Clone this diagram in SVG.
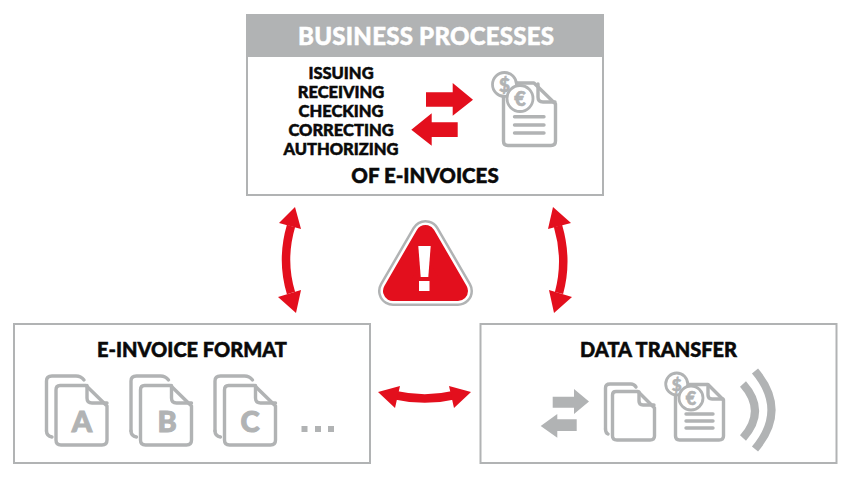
<svg xmlns="http://www.w3.org/2000/svg" width="850" height="478" viewBox="0 0 850 478">
<style>
text{font-family:Lato,"Liberation Sans",sans-serif;font-weight:900;fill:#0a0a0a;stroke:#0a0a0a;stroke-width:.5;text-anchor:middle}
.box{fill:#fff;stroke:#b1b3b4;stroke-width:2}
.ln{fill:none;stroke:#b1b3b4;stroke-width:3.400;stroke-linejoin:round;stroke-linecap:round}
.coin{fill:#fff;stroke:#b1b3b4;stroke-width:2.800}
.g{fill:#b1b3b4}
.r{fill:#e30f1d}
.sh{fill:none;stroke:#e30f1d;stroke-width:8.500}
.wave{fill:none;stroke:#b1b3b4;stroke-width:8}
.sym{fill:#b1b3b4;stroke:#b1b3b4;stroke-width:.6}
.list{font-size:16.500px}
.head{font-size:20px}
.let{fill:#b1b3b4;stroke:#b1b3b4;stroke-width:1;font-size:29px}
</style>
<defs>
<g id="doc"><path class="ln" d="M46.500 431V381Q46.500 376 52 376H76Q81 376 84 380"/><path class="ln" d="M46.500 431Q46.500 436 52 437"/><path d="M60 385.500H86L107 406V440Q107 445 102 445H61Q56 445 56 440V390Q56 385.500 60 385.500Z" class="ln" style="fill:#fff"/><path class="ln" d="M87 385.500V398Q87 403 92 403H107"/></g>
</defs>
<g id="connectors">
<path class="sh" d="M291 226Q281 260 291 293"/><polygon class="r" points="295,207 279,223 301,229"/><polygon class="r" points="296,313 278,297 301,290"/>
<path class="sh" d="M558 226Q568 260 559 293"/><polygon class="r" points="553,207 548,229 571,223"/><polygon class="r" points="554,313 549,290 572,297"/>
<path class="sh" d="M394 395Q425 402 455 395"/><polygon class="r" points="378,392 400,386 395,408"/><polygon class="r" points="471,392 449,386 454,408"/>
</g>
<g id="business-processes">
<rect class="box" x="247" y="15" width="356" height="180"/>
<rect class="g" x="246" y="14" width="358" height="43"/>
<text x="426" y="45" font-size="24" style="fill:#fff;stroke:#fff" textLength="256">BUSINESS PROCESSES</text>
<text class="list" x="341" y="78.500">ISSUING</text>
<text class="list" x="341" y="97.500">RECEIVING</text>
<text class="list" x="341" y="117">CHECKING</text>
<text class="list" x="341" y="136">CORRECTING</text>
<text class="list" x="341" y="155">AUTHORIZING</text>
<text x="425" y="183" font-size="20.500">OF E-INVOICES</text>
<polygon class="r" points="426,92.300 452.700,92.300 452.700,83 473,99.700 452.700,115.700 452.700,106.700 426,106.700"/>
<polygon class="r" points="411.300,129.700 431.700,113.300 431.700,122.300 457.700,122.300 457.700,137 431.700,137 431.700,145.700"/>
<path class="ln" d="M516 83H534L555.500 104V141Q555.500 145.500 551 145.500H508Q503.500 145.500 503.500 141V95"/>
<path class="ln" d="M538 84V97Q538 102 543 102H555"/>
<path class="ln" d="M514.500 116.700H544M514.500 125H544M514.500 133H544"/>
<circle class="coin" cx="504.500" cy="84.500" r="12"/><text class="sym" x="504.500" y="91.500" font-size="19">$</text>
<circle class="coin" cx="520" cy="98.500" r="13"/><text class="sym" x="520" y="105.500" font-size="20">€</text>
</g>
<g id="warning">
<polygon points="425.500,235 393,291 458,291" style="fill:#b1b3b4;stroke:#b1b3b4;stroke-width:30;stroke-linejoin:round"/>
<polygon points="425.500,235 393,291 458,291" style="fill:#fff;stroke:#fff;stroke-width:25;stroke-linejoin:round"/>
<polygon class="r" points="425.500,235 393,291 458,291" style="stroke:#e30f1d;stroke-width:20;stroke-linejoin:round"/>
<polygon points="418.300,246 430.700,246 428.300,277 420.700,277" fill="#fff"/>
<rect x="419" y="281" width="10.500" height="10" fill="#fff"/>
</g>
<g id="e-invoice-format">
<rect class="box" x="14" y="324" width="356" height="139"/>
<text class="head" x="192" y="357">E-INVOICE FORMAT</text>
<use href="#doc"/><use href="#doc" x="84.500"/><use href="#doc" x="168.500"/>
<text class="let" x="82" y="432">A</text><text class="let" x="167" y="432">B</text><text class="let" x="250" y="432">C</text>
<rect class="g" x="301.500" y="426" width="6" height="6"/><rect class="g" x="315" y="426" width="6" height="6"/><rect class="g" x="328" y="426" width="6" height="6"/>
</g>
<g id="data-transfer">
<rect class="box" x="480.500" y="324" width="356" height="139"/>
<text class="head" x="658.500" y="357">DATA TRANSFER</text>
<polygon class="g" points="552.700,396.700 574,396.700 574,389 589,401.500 574,414 574,407.700 552.700,407.700"/>
<polygon class="g" points="540.700,426 557.300,414 557.300,419.300 576.700,419.300 576.700,431 557.300,431 557.300,437.700"/>
<path class="ln" d="M605.500 429V388Q605.500 384 610 384H631Q634 384 636 387"/>
<path class="ln" d="M605.500 429Q605.500 433 608 434"/>
<path class="ln" style="fill:#fff" d="M616 391.500H638L654.500 408V436Q654.500 440 650 440H617Q612.500 440 612.500 436V395Q612.500 391.500 616 391.500Z"/>
<path class="ln" d="M639 392V401Q639 405 643 405H654"/>
<path class="ln" d="M686 384.500H708L723.500 400V436Q723.500 440 719 440H679.500Q675.500 440 675.500 436V396"/>
<path class="ln" d="M708 385V395Q708 399 712 399H723"/>
<path class="ln" d="M686 414H713M686 421H713M686 428H713"/>
<circle class="coin" cx="676.700" cy="384" r="11"/><text class="sym" x="676.700" y="390.500" font-size="17">$</text>
<circle class="coin" cx="691" cy="398" r="12"/><text class="sym" x="691" y="404.500" font-size="18">€</text>
<path class="wave" d="M743 384Q767 411 743 438"/>
<path class="wave" d="M755 371Q788 410 755 449"/>
</g>
</svg>
